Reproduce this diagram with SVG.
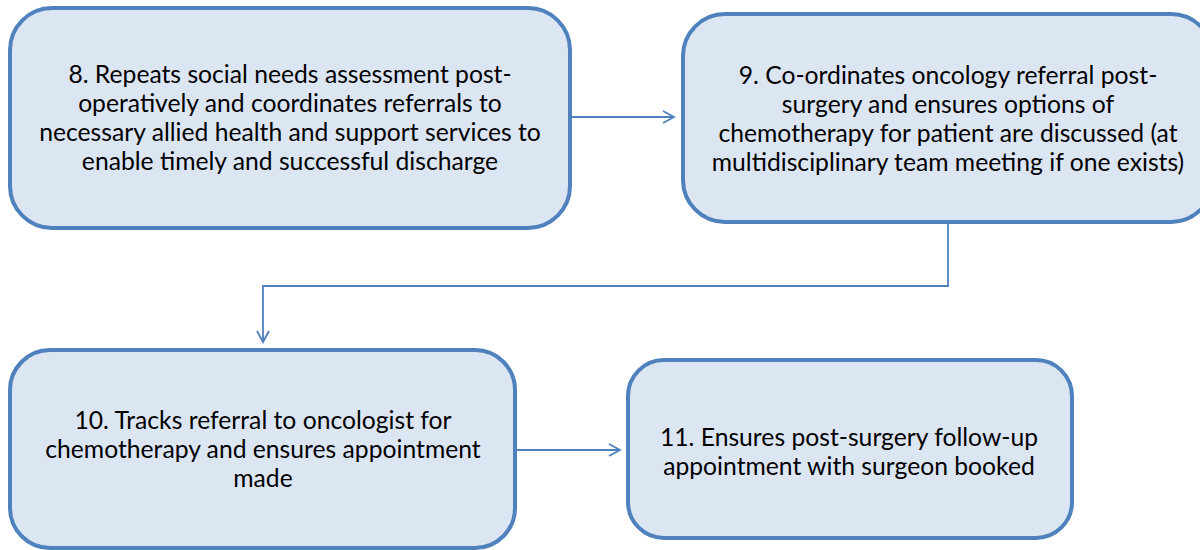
<svg xmlns="http://www.w3.org/2000/svg" width="1200" height="550" viewBox="0 0 1200 550">
<style>
.box{fill:#DCE6F2;stroke:#4F81BD;stroke-width:4}
.t{font-family:Lato,"Liberation Sans",sans-serif;font-size:24.7px;fill:#000;text-anchor:middle}
.c{fill:none;stroke:#4F81BD;stroke-width:1.8}
</style>
<defs>
<marker id="a" markerWidth="14" markerHeight="14" refX="12" refY="7" orient="auto" markerUnits="userSpaceOnUse">
<path d="M1,1 L12,7 L1,13" fill="none" stroke="#4F81BD" stroke-width="1.8"/>
</marker>
</defs>
<g id="connectors">
<path class="c" d="M571,117 L674,117" marker-end="url(#a)"/>
<path class="c" d="M948,222 L948,286 L263,286 L263,342" marker-end="url(#a)"/>
<path class="c" d="M516,450 L620,450" marker-end="url(#a)"/>
</g>
<g id="n8">
<rect class="box" x="10" y="8" width="560" height="220" rx="42"/>
<text class="t" x="290" y="83">8. Repeats social needs assessment post-</text>
<text class="t" x="290" y="112">operatively and coordinates referrals to</text>
<text class="t" x="290" y="141">necessary allied health and support services to</text>
<text class="t" x="290" y="170">enable timely and successful discharge</text>
</g>
<g id="n9">
<rect class="box" x="683" y="14" width="530" height="208" rx="42"/>
<text class="t" x="948" y="84">9. Co-ordinates oncology referral post-</text>
<text class="t" x="948" y="113">surgery and ensures options of</text>
<text class="t" x="948" y="142">chemotherapy for patient are discussed (at</text>
<text class="t" x="948" y="171">multidisciplinary team meeting if one exists)</text>
</g>
<g id="n10">
<rect class="box" x="10" y="350" width="505" height="198" rx="40"/>
<text class="t" x="263" y="429">10. Tracks referral to oncologist for</text>
<text class="t" x="263" y="458">chemotherapy and ensures appointment</text>
<text class="t" x="263" y="487">made</text>
</g>
<g id="n11">
<rect class="box" x="628" y="360" width="444" height="178" rx="36"/>
<text class="t" x="849" y="446">11. Ensures post-surgery follow-up</text>
<text class="t" x="849" y="475">appointment with surgeon booked</text>
</g>
</svg>
